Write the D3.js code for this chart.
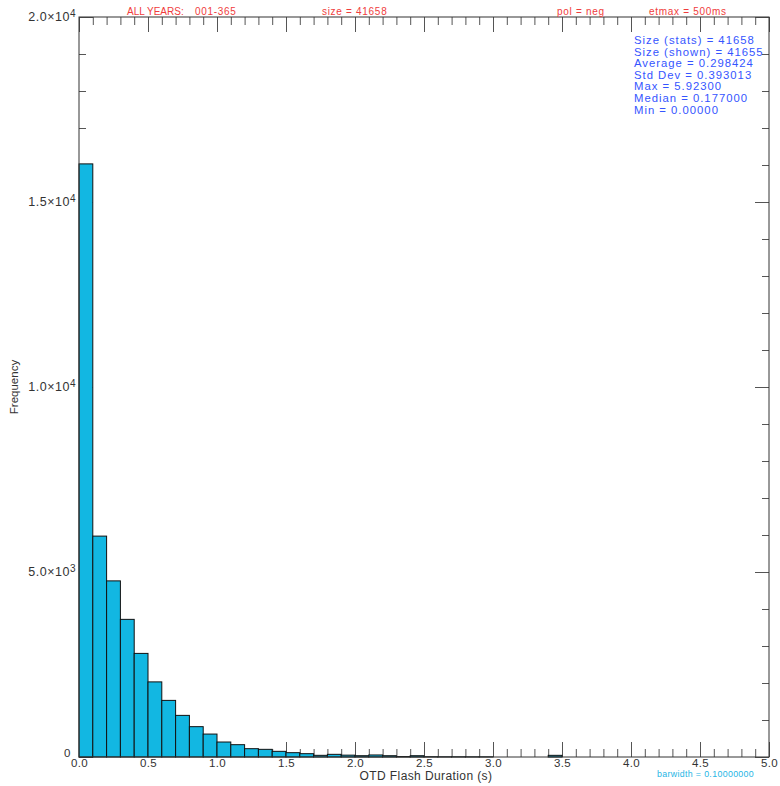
<!DOCTYPE html>
<html>
<head>
<meta charset="utf-8">
<script src="https://cdn.jsdelivr.net/npm/d3@7"></script>
<style>
  html, body { margin: 0; padding: 0; background: #fff; }
  svg { display: block; }
  text { font-family: "Liberation Sans", Arial, sans-serif; }
</style>
</head>
<body>
<script>
// Histogram of OTD flash durations, 0.1 s bins from 0.0 to 5.0 s
const binWidth = 0.1;
const binStarts = d3.range(0, 50).map(i => +(i * binWidth).toFixed(1));
const counts = [
  16030, 5970, 4760, 3720, 2800, 2030, 1530, 1125, 820, 620,
  405, 333, 225, 207, 153, 117, 90, 45, 72, 50,
  35, 55, 35, 12, 35, 8, 6, 6, 5, 5,
  0, 0, 0, 0, 45, 0, 0, 0, 0, 0,
  0, 0, 0, 0, 0, 0, 0, 0, 0, 0
];

const xMajorTicks = [0, 0.5, 1.0, 1.5, 2.0, 2.5, 3.0, 3.5, 4.0, 4.5, 5.0];
const xMinorTicks = d3.range(0, 51).map(i => +(i * 0.1).toFixed(1));
const yMajorTicks = [0, 5000, 10000, 15000, 20000];
const yMajorLabels = [["0", null], ["5.0×10", "3"], ["1.0×10", "4"], ["1.5×10", "4"], ["2.0×10", "4"]];
const yMinorTicks = d3.range(0, 21).map(i => i * 1000);

const headerTexts = [
  { text: "ALL YEARS:", x: 127 },
  { text: "001-365", x: 195 },
  { text: "size = 41658", x: 322 },
  { text: "pol = neg", x: 557 },
  { text: "etmax = 500ms", x: 649 }
];
const statsLines = [
  "Size (stats) = 41658",
  "Size (shown) = 41655",
  "Average = 0.298424",
  "Std Dev = 0.393013",
  "Max = 5.92300",
  "Median = 0.177000",
  "Min = 0.00000"
];

const W = 780, H = 786;
const plotL = 79, plotR = 769, plotT = 17, plotB = 757;

const svg = d3.select("body").append("svg").attr("width", W).attr("height", H);

const x = d3.scaleLinear().domain([0, 5]).range([plotL, plotR]);
const y = d3.scaleLinear().domain([0, 20000]).range([plotB, plotT]);

const tickColor = "#555";

// ticks on all four sides, pointing inward
function styleAxis(g) {
  g.select(".domain").remove();
  g.selectAll(".tick line").attr("stroke", tickColor).attr("stroke-width", 1);
}

const gTicks = svg.append("g");
gTicks.append("g").attr("transform", `translate(0,${plotB})`)
  .call(d3.axisBottom(x).tickValues(xMinorTicks).tickSize(-8).tickFormat(""))
  .call(styleAxis);
gTicks.append("g").attr("transform", `translate(0,${plotT})`)
  .call(d3.axisTop(x).tickValues(xMinorTicks).tickSize(-8).tickFormat(""))
  .call(styleAxis);
gTicks.append("g").attr("transform", `translate(0,${plotT})`)
  .call(d3.axisTop(x).tickValues(xMajorTicks).tickSize(-15).tickFormat(""))
  .call(styleAxis);
gTicks.append("g").attr("transform", `translate(${plotL},0)`)
  .call(d3.axisLeft(y).tickValues(yMinorTicks).tickSize(-7).tickFormat(""))
  .call(styleAxis);
gTicks.append("g").attr("transform", `translate(${plotL},0)`)
  .call(d3.axisLeft(y).tickValues(yMajorTicks).tickSize(-14).tickFormat(""))
  .call(styleAxis);
gTicks.append("g").attr("transform", `translate(${plotR},0)`)
  .call(d3.axisRight(y).tickValues(yMinorTicks).tickSize(-7).tickFormat(""))
  .call(styleAxis);
gTicks.append("g").attr("transform", `translate(${plotR},0)`)
  .call(d3.axisRight(y).tickValues(yMajorTicks).tickSize(-14).tickFormat(""))
  .call(styleAxis);
gTicks.append("g").attr("transform", `translate(0,${plotB})`)
  .call(d3.axisBottom(x).tickValues(xMajorTicks).tickSize(-15).tickFormat(""))
  .call(styleAxis);

// bars
const bins = binStarts.map((s, i) => ({ x0: s, x1: +(s + binWidth).toFixed(1), n: counts[i] }));
svg.append("g")
  .selectAll("rect")
  .data(bins.filter(d => d.n > 0))
  .join("rect")
  .attr("x", d => x(d.x0))
  .attr("y", d => y(d.n))
  .attr("width", d => x(d.x1) - x(d.x0))
  .attr("height", d => y(0) - y(d.n))
  .attr("fill", "#12b7e2")
  .attr("stroke", "#111")
  .attr("stroke-width", 1);

// frame
svg.append("rect")
  .attr("x", plotL).attr("y", plotT)
  .attr("width", plotR - plotL).attr("height", plotB - plotT)
  .attr("fill", "none").attr("stroke", "#333").attr("stroke-width", 1);

// x tick labels
const xLab = svg.append("g").attr("transform", `translate(0,${plotB})`)
  .call(d3.axisBottom(x).tickValues(xMajorTicks).tickSize(0).tickPadding(1.5).tickFormat(d3.format(".1f")));
xLab.select(".domain").remove();
xLab.selectAll("text").attr("font-family", "Liberation Sans, Arial, sans-serif")
  .attr("font-size", 11.5).attr("fill", "#333").attr("letter-spacing", 0.3);

// y tick labels with superscript exponents
const yLab = svg.append("g");
yMajorTicks.forEach((v, i) => {
  const [base, exp] = yMajorLabels[i];
  const t = yLab.append("text")
    .attr("x", exp ? plotL - 3 : plotL - 8)
    .attr("y", y(v))
    .attr("dy", exp ? "0.35em" : "0em")
    .attr("text-anchor", "end")
    .attr("font-size", exp ? 12.5 : 11.5)
    .attr("letter-spacing", 0.5)
    .attr("fill", "#333");
  t.append("tspan").text(base);
  if (exp) {
    t.append("tspan").attr("dy", "-0.45em").attr("font-size", 10).text(exp);
  }
});

// axis titles
svg.append("text")
  .attr("x", (plotL + plotR) / 2 + 2).attr("y", 780)
  .attr("text-anchor", "middle").attr("font-size", 12).attr("letter-spacing", 0.4)
  .attr("fill", "#333")
  .text("OTD Flash Duration (s)");
svg.append("text")
  .attr("transform", `translate(18,${(plotT + plotB) / 2}) rotate(-90)`)
  .attr("text-anchor", "middle").attr("font-size", 11.5).attr("fill", "#333")
  .text("Frequency");

// header annotations
svg.append("g").selectAll("text").data(headerTexts).join("text")
  .attr("x", d => d.x).attr("y", 15)
  .attr("font-size", 10).attr("letter-spacing", (d, i) => i === 0 ? 0 : 0.7)
  .attr("fill", "#f03c3c")
  .text(d => d.text);

// summary statistics
svg.append("g").selectAll("text").data(statsLines).join("text")
  .attr("x", 634).attr("y", (d, i) => 44 + i * 11.6)
  .attr("font-size", 11.3).attr("letter-spacing", 1).attr("fill", "#3555ff")
  .text(d => d);

// bin width note
svg.append("text")
  .attr("x", 657).attr("y", 777)
  .attr("font-size", 8.8).attr("letter-spacing", 0.35).attr("fill", "#25b5e5")
  .text("barwidth = " + binWidth.toFixed(8));
</script>
</body>
</html>
